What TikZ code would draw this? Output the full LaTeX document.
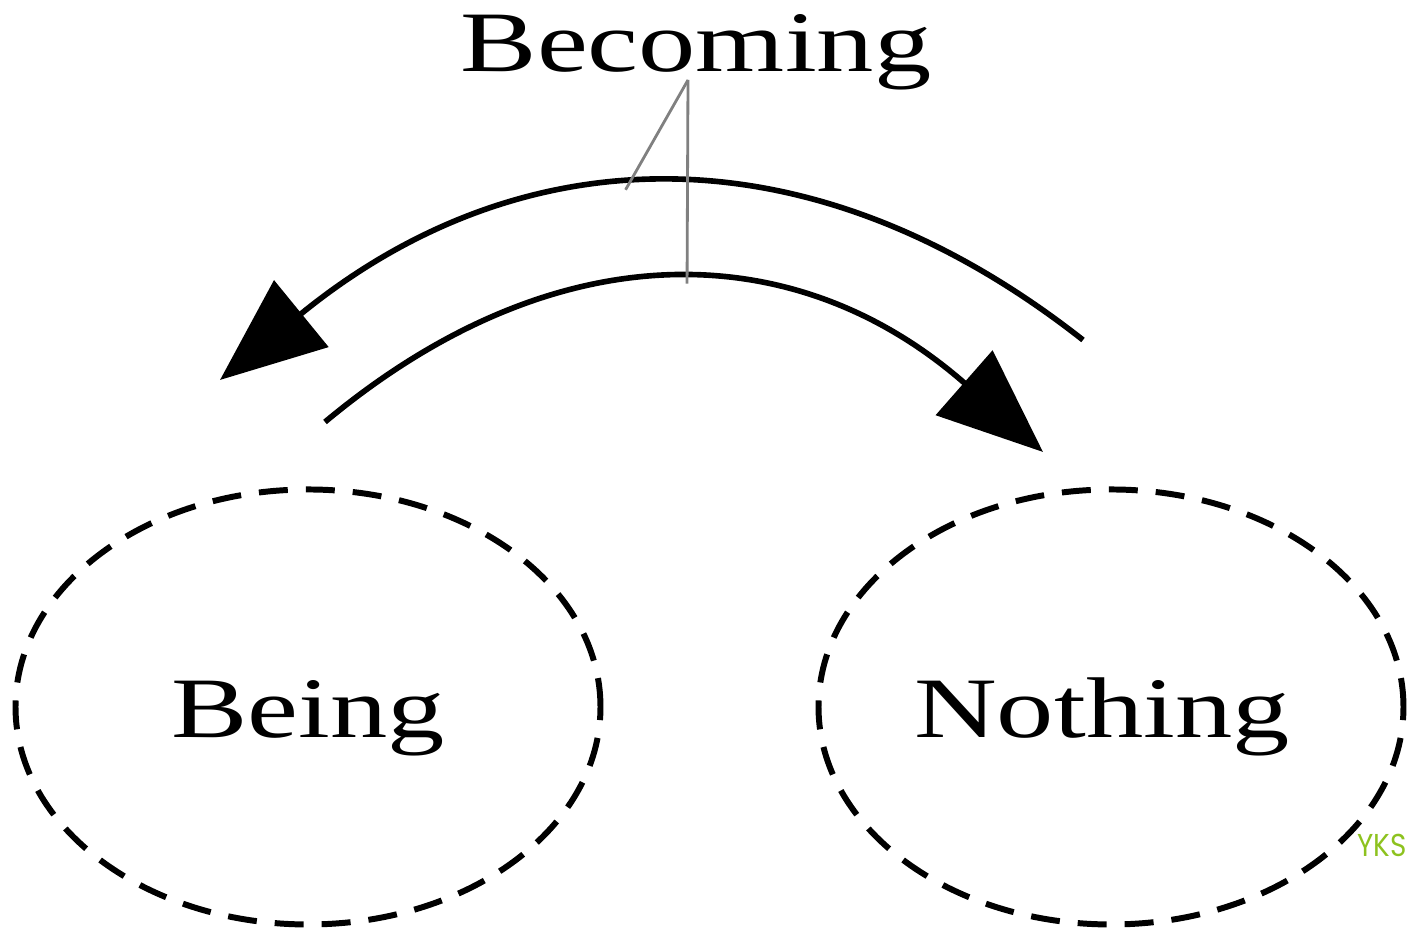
\documentclass[tikz,border=0pt]{standalone}
\usepackage{fontspec}
\setmainfont{Liberation Serif}
\newfontfamily\markfont{Poppins}
\usetikzlibrary{arrows.meta,shapes.geometric,positioning}
\definecolor{markgreen}{RGB}{141,194,31}
\newcommand{\stretched}[1]{\scalebox{1.33}[1]{#1}}

\begin{document}
\begin{tikzpicture}
	[word/.style={font=\fontsize{24.5}{28}\selectfont, inner sep=0pt},
	cloud/.style={ellipse, draw, line width=1.7pt, dash pattern=on 0.29cm off 0.18cm,
		minimum width=5.85cm, minimum height=4.35cm, inner sep=0pt},
	swing/.style={line width=1.6pt, -{Triangle[length=1.05cm,width=0.85cm]}},
	pointer/.style={gray, line width=0.8pt}]
	\useasboundingbox (0,0) rectangle (14.08,9.28);
	% the two states
	\node[cloud] (beingzone) at (3.08,2.21) {};
	\node[cloud] (nothingzone) at (11.11,2.21) {};
	\node[word, anchor=base] (being) at ([yshift=-0.31cm]beingzone.center) {\stretched{Being}};
	\node[word, anchor=base] (nothing) at ([xshift=-0.09cm,yshift=-0.31cm]nothingzone.center) {\stretched{Nothing}};
	% the passage between them
	\node[word, anchor=base] (becoming) at (6.96,8.56) {\stretched{Becoming}};
	\coordinate (apex) at (6.88,8.48);
	\coordinate (outerright) at (10.83,5.88);
	\coordinate (outerleft) at (2.20,5.48);
	\coordinate (innerleft) at (3.25,5.06);
	\coordinate (innerright) at (10.43,4.76);
	\draw[swing] (outerright) .. controls (8.07,8.05) and (5.19,7.92) .. (outerleft)
		coordinate[pos=0.54] (outertouch);
	\draw[swing] (innerleft) .. controls (5.59,7.01) and (7.98,6.91) .. (innerright)
		coordinate[pos=0.51] (innertouch);
	\draw[pointer] (apex) -- (outertouch);
	\draw[pointer] (apex) -- (innertouch);
	\node[font=\markfont\fontsize{9}{10}\selectfont, text=markgreen, inner sep=0pt] (mark) at (13.82,0.83) {\scalebox{0.88}[1]{YKS}};
\end{tikzpicture}
\end{document}
